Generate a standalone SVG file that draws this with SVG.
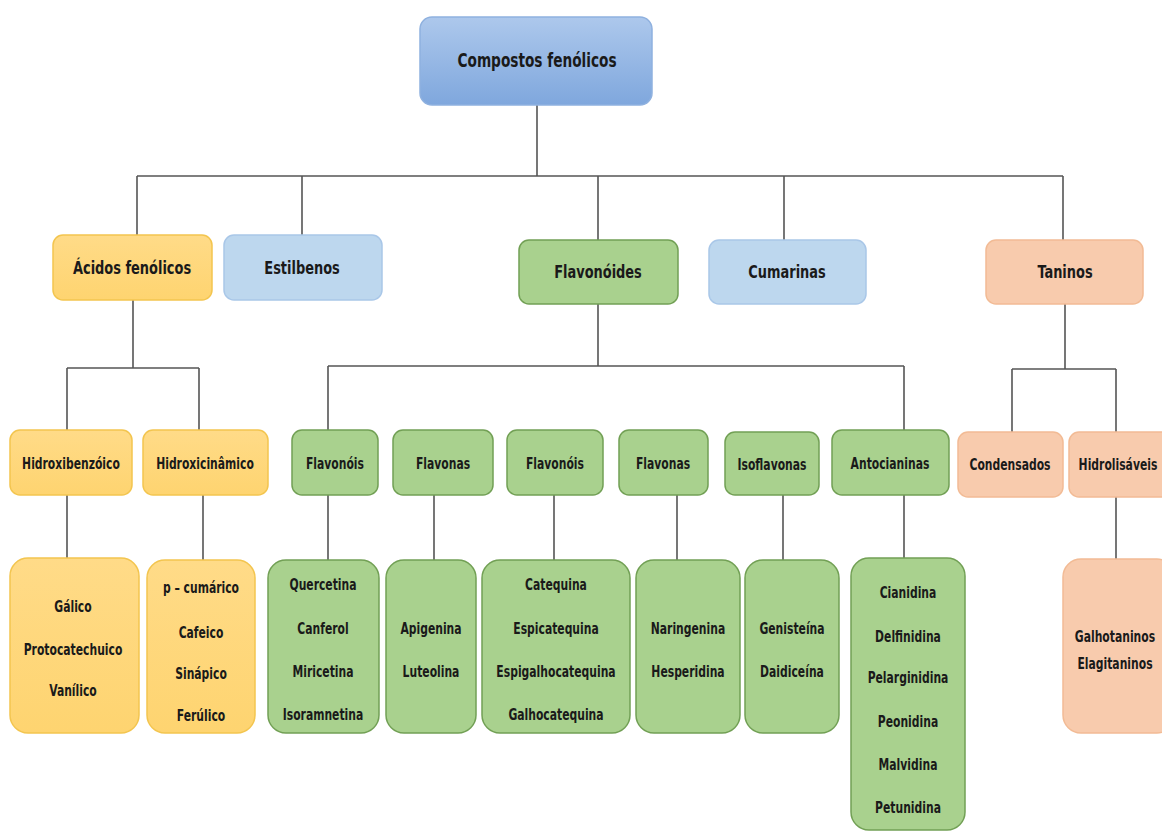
<svg xmlns="http://www.w3.org/2000/svg" width="1162" height="833" viewBox="0 0 1162 833">
<defs>
<linearGradient id="gBlue" x1="0" y1="0" x2="0" y2="1"><stop offset="0" stop-color="#adc8ec"/><stop offset="1" stop-color="#7fa7dd"/></linearGradient>
<linearGradient id="gOr" x1="0" y1="0" x2="0" y2="1"><stop offset="0" stop-color="#ffdb88"/><stop offset="1" stop-color="#fed470"/></linearGradient>
</defs>
<style>
text{font-family:"Liberation Sans Narrow","DejaVu Sans Condensed","Liberation Sans",sans-serif;font-weight:bold;fill:#1a1a1a;text-anchor:middle;transform:scaleX(0.8);transform-box:fill-box;transform-origin:center}
.t0{font-size:19px}.t1{font-size:18px}.t2{font-size:15px}.t3{font-size:15px}
.blue{fill:url(#gBlue);stroke:#8fb1df;stroke-width:1.5}
.lb{fill:#bdd7ee;stroke:#a9c7e8;stroke-width:1.5}
.or{fill:url(#gOr);stroke:#f3c54f;stroke-width:1.5}
.gr{fill:#a9d18e;stroke:#72a055;stroke-width:1.5}
.pe{fill:#f8cbad;stroke:#f2bb95;stroke-width:1.5}
.c{stroke:#555;stroke-width:1.6;fill:none}
</style>
<g id="connectors">
<path class="c" d="M537 105V176M137 176H1063M137 176V235M302 176V235M598 176V240M784 176V240M1063 176V240"/>
<path class="c" d="M133 300V368M67 368H199M67 368V430M199 368V430M67 495V558M203 495V560"/>
<path class="c" d="M598 304V366M328 366H904M328 366V430M904 366V430"/>
<path class="c" d="M328 495V560M434 495V560M554 495V560M677 495V560M783 495V560M904 495V558"/>
<path class="c" d="M1065 304V369M1012 369H1116M1012 369V432M1116 369V432M1116 497V559"/>
</g>
<g id="root"><rect class="blue" x="420" y="17" width="232" height="88" rx="12"/><text class="t0" x="537" y="67">Compostos fenólicos</text></g>
<g id="acidos"><rect class="or" x="53" y="235" width="159" height="65" rx="10"/><text class="t1" x="132" y="274">Ácidos fenólicos</text></g>
<g id="estilbenos"><rect class="lb" x="224" y="235" width="158" height="65" rx="10"/><text class="t1" x="302" y="274">Estilbenos</text></g>
<g id="flavonoides"><rect class="gr" x="519" y="240" width="159" height="64" rx="10"/><text class="t1" x="598" y="278">Flavonóides</text></g>
<g id="cumarinas"><rect class="lb" x="709" y="240" width="157" height="64" rx="10"/><text class="t1" x="787" y="278">Cumarinas</text></g>
<g id="taninos"><rect class="pe" x="986" y="240" width="157" height="64" rx="10"/><text class="t1" x="1065" y="278">Taninos</text></g>

<g id="hidroxibenzoico"><rect class="or" x="10" y="430" width="122" height="65" rx="10"/><text class="t2" x="71" y="469">Hidroxibenzóico</text></g>
<g id="hidroxicinamico"><rect class="or" x="143" y="430" width="125" height="65" rx="10"/><text class="t2" x="205" y="469">Hidroxicinâmico</text></g>
<g id="flavonois1"><rect class="gr" x="292" y="430" width="86" height="65" rx="10"/><text class="t2" x="335" y="469">Flavonóis</text></g>
<g id="flavonas1"><rect class="gr" x="393" y="430" width="100" height="65" rx="10"/><text class="t2" x="443" y="469">Flavonas</text></g>
<g id="flavonois2"><rect class="gr" x="507" y="430" width="96" height="65" rx="10"/><text class="t2" x="555" y="469">Flavonóis</text></g>
<g id="flavonas2"><rect class="gr" x="619" y="430" width="89" height="65" rx="10"/><text class="t2" x="663" y="469">Flavonas</text></g>
<g id="isoflavonas"><rect class="gr" x="725" y="432" width="94" height="63" rx="10"/><text class="t2" x="772" y="470">Isoflavonas</text></g>
<g id="antocianinas"><rect class="gr" x="832" y="430" width="117" height="65" rx="10"/><text class="t2" x="890" y="469">Antocianinas</text></g>
<g id="condensados"><rect class="pe" x="958" y="432" width="105" height="65" rx="10"/><text class="t2" x="1010" y="470">Condensados</text></g>
<g id="hidrolisaveis"><rect class="pe" x="1069" y="432" width="104" height="65" rx="10"/><text class="t2" x="1118" y="470">Hidrolisáveis</text></g>

<g id="leaf-benzoico"><rect class="or" x="10" y="558" width="129" height="175" rx="18"/><text class="t3" x="73" y="612">Gálico</text><text class="t3" x="73" y="655">Protocatechuico</text><text class="t3" x="73" y="696">Vanílico</text></g>
<g id="leaf-cinamico"><rect class="or" x="147" y="560" width="108" height="173" rx="18"/><text class="t3" x="201" y="593">p – cumárico</text><text class="t3" x="201" y="638">Cafeico</text><text class="t3" x="201" y="679">Sinápico</text><text class="t3" x="201" y="721">Ferúlico</text></g>
<g id="leaf-flavonois1"><rect class="gr" x="268" y="560" width="111" height="173" rx="18"/><text class="t3" x="323" y="590">Quercetina</text><text class="t3" x="323" y="634">Canferol</text><text class="t3" x="323" y="677">Miricetina</text><text class="t3" x="323" y="720">Isoramnetina</text></g>
<g id="leaf-flavonas1"><rect class="gr" x="386" y="560" width="90" height="173" rx="18"/><text class="t3" x="431" y="634">Apigenina</text><text class="t3" x="431" y="677">Luteolina</text></g>
<g id="leaf-flavonois2"><rect class="gr" x="482" y="560" width="148" height="173" rx="18"/><text class="t3" x="556" y="590">Catequina</text><text class="t3" x="556" y="634">Espicatequina</text><text class="t3" x="556" y="677">Espigalhocatequina</text><text class="t3" x="556" y="720">Galhocatequina</text></g>
<g id="leaf-flavonas2"><rect class="gr" x="636" y="560" width="104" height="173" rx="18"/><text class="t3" x="688" y="634">Naringenina</text><text class="t3" x="688" y="677">Hesperidina</text></g>
<g id="leaf-isoflavonas"><rect class="gr" x="745" y="560" width="94" height="173" rx="18"/><text class="t3" x="792" y="634">Genisteína</text><text class="t3" x="792" y="677">Daidiceína</text></g>
<g id="leaf-antocianinas"><rect class="gr" x="851" y="558" width="114" height="272" rx="18"/><text class="t3" x="908" y="598">Cianidina</text><text class="t3" x="908" y="642">Delfinidina</text><text class="t3" x="908" y="683">Pelarginidina</text><text class="t3" x="908" y="727">Peonidina</text><text class="t3" x="908" y="770">Malvidina</text><text class="t3" x="908" y="813">Petunidina</text></g>
<g id="leaf-hidrolisaveis"><rect class="pe" x="1063" y="559" width="112" height="174" rx="18"/><text class="t3" x="1115" y="642">Galhotaninos</text><text class="t3" x="1115" y="669">Elagitaninos</text></g>
</svg>
